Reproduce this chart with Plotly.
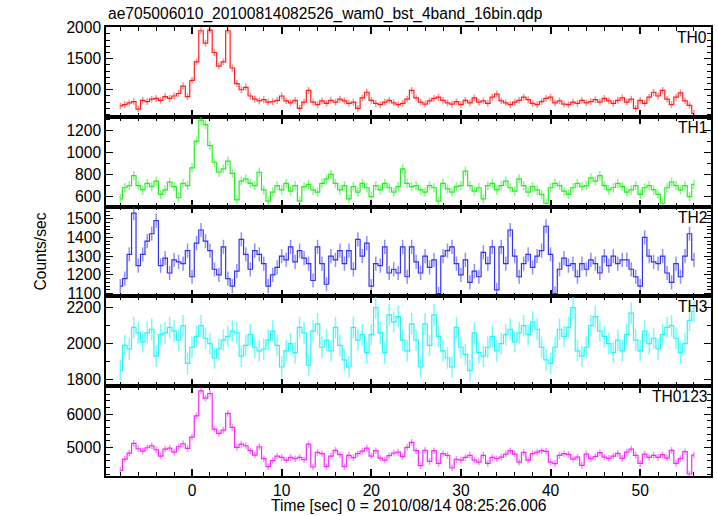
import plotly.graph_objects as go
from plotly.subplots import make_subplots

# ---------------- data (0.5 s bins starting at t = -8 s) ----------------
t_start = -8.0
bin_width = 0.5

th0 = [740, 760, 790, 810, 690, 830, 810, 850, 860, 830, 890, 860, 900, 940, 1060, 890,
       1150, 1450, 1950, 1750, 1960, 1600, 1380, 1450, 1950, 1350, 1100, 1000, 1040, 900, 850, 820,
       840, 800, 810, 830, 900, 820, 790, 830, 700, 800, 990, 800, 760, 820, 780, 830,
       800, 850, 820, 780, 800, 700, 870, 960, 830, 780, 760, 800, 830, 790, 760, 780,
       850, 990, 870, 800, 770, 820, 860, 880, 830, 790, 770, 810, 760, 830, 790, 870,
       800, 820, 780, 880, 930, 820, 790, 760, 800, 830, 880, 840, 780, 760, 810, 860,
       880, 790, 820, 770, 760, 800, 780, 830, 790, 810, 840, 800, 860, 820, 780, 830,
       870, 800, 850, 700, 830, 780, 880, 960, 900, 990, 850, 760, 880, 950, 820, 750,
       620]

th1 = [580, 680, 700, 790, 700, 660, 720, 690, 740, 620, 660, 730, 690, 590, 720, 700,
       860, 1100, 1290, 1250, 1060, 910, 820, 850, 920, 810, 570, 740, 760, 720, 700, 820,
       660, 560, 640, 700, 660, 720, 650, 700, 560, 690, 710, 660, 640, 720, 760, 800,
       720, 660, 700, 580, 690, 640, 720, 680, 600, 700, 660, 720, 680, 640, 690, 850,
       720, 690, 700, 660, 640, 700, 680, 560, 720, 670, 640, 690, 700, 830, 700, 650,
       680, 580, 700, 720, 660, 700, 740, 680, 650, 760, 700, 640, 690, 660, 620, 540,
       680, 720, 700, 650, 620, 680, 720, 690, 700, 770, 740, 790, 700, 660, 680, 720,
       690, 640, 660, 700, 620, 680, 700, 660, 620, 540, 680, 730, 700, 660, 700, 600,
       710]

th2 = [1140, 1180, 1310, 1530, 1250, 1310, 1380, 1420, 1490, 1250, 1290, 1210, 1280, 1270, 1260, 1330,
       1190, 1370, 1440, 1380, 1330, 1230, 1200, 1350, 1180, 1140, 1220, 1390, 1310, 1230, 1330, 1310,
       1260, 1140, 1200, 1240, 1300, 1280, 1350, 1270, 1330, 1290, 1260, 1170, 1350, 1260, 1150, 1300,
       1280, 1330, 1260, 1330, 1230, 1390, 1300, 1370, 1140, 1260, 1250, 1350, 1210, 1230, 1210, 1350,
       1190, 1350, 1270, 1210, 1300, 1240, 1280, 1100, 1300, 1330, 1350, 1260, 1200, 1280, 1160, 1220,
       1190, 1320, 1260, 1350, 1120, 1350, 1260, 1440, 1300, 1190, 1260, 1310, 1240, 1300, 1330, 1460,
       1310, 1100, 1230, 1290, 1250, 1260, 1190, 1260, 1230, 1280, 1260, 1210, 1300, 1250, 1300, 1260,
       1280, 1280, 1230, 1190, 1140, 1400, 1300, 1270, 1260, 1300, 1210, 1160, 1260, 1190, 1300, 1420,
       1280]

th3 = [1850, 1990, 1970, 2090, 2060, 2010, 2060, 2080, 1930, 2050, 2060, 2090, 2070, 2020, 2100, 1890,
       1980, 2040, 2100, 2030, 2000, 1920, 1970, 2020, 2040, 2070, 2060, 1930, 1990, 2050, 1980, 1960,
       1970, 2020, 2070, 1990, 1870, 1960, 2000, 1950, 2090, 2060, 1880, 2070, 2110, 1980, 2020, 1960,
       2090, 1990, 1910, 1870, 2090, 2020, 2050, 1950, 2050, 2200, 2060, 1950, 2160, 2120, 2150, 2020,
       1960, 2110, 2020, 1870, 2110, 1990, 2160, 2040, 1960, 1920, 1870, 2090, 1980, 1940, 1850, 2060,
       1950, 1930, 1980, 2040, 1960, 2000, 2050, 2080, 2010, 2060, 2100, 2050, 2120, 2080, 1980, 1910,
       1890, 1980, 2080, 2040, 2090, 2200, 1960, 1930, 1980, 2100, 2150, 2070, 2040, 2000, 1950, 2020,
       1960, 2050, 2170, 2020, 1960, 2070, 2000, 2030, 1970, 2050, 2090, 2100, 2030, 1950, 2000, 2130,
       2180]

th0123 = [4310, 4650, 4830, 5120, 4960, 4890, 4990, 5050, 4930, 4740, 4950, 4980, 4860, 5020, 5110, 4970,
          5310, 5950, 6700, 6480, 6620, 5550, 5420, 5520, 6020, 5600, 5000, 5100, 5050, 4900, 4770, 5020,
          4660, 4420, 4600, 4740, 4700, 4620, 4700, 4660, 4700, 4630, 5100, 4410, 4850, 4810, 4420, 4740,
          4910, 4780, 4420, 4760, 4690, 4810, 4890, 4980, 4740, 4900, 4680, 4620, 4750, 4830, 4860, 4720,
          5000, 5150, 4900, 4450, 4910, 4580, 4900, 4520, 4810, 4760, 4380, 4640, 4620, 4700, 4760, 4620,
          4560, 4760, 4520, 4700, 4660, 4710, 4800, 4900, 4800, 4560, 4850, 4620, 4810, 4860, 4900, 4880,
          4560, 4510, 4760, 4810, 4790, 4650, 4710, 4460, 4800, 4660, 4720, 4840, 4710, 4670, 4740, 4820,
          4670, 4860, 4950, 4760, 4520, 4800, 4700, 4760, 4700, 4780, 4680, 4910, 4520, 4660, 4870, 4200,
          4770]

band_names = ["TH0", "TH1", "TH2", "TH3", "TH0123"]
band_errors = [55, 42, 38, 60, 100]
series = [th0, th1, th2, th3, th0123]

title_text = "ae705006010_20100814082526_wam0_bst_4band_16bin.qdp"
x_title = "Time [sec] 0 = 2010/08/14 08:25:26.006"
y_title = "Counts/sec"

# ---------------- style ----------------
colors = ["rgb(255,30,30)", "rgb(40,235,40)", "rgb(50,50,240)", "rgb(40,245,245)", "rgb(245,40,245)"]
err_colors = ["rgba(255,60,60,0.6)", "rgba(60,240,60,0.6)", "rgba(70,70,240,0.6)",
              "rgba(60,250,250,0.7)", "rgba(250,60,250,0.6)"]
y_ranges = [[565, 2010], [510, 1320], [1085, 1565], [1763, 2263], [4140, 6840]]
y_dticks = [500, 200, 100, 200, 1000]
y_minor = [100, 100, 20, 100, 200]

FONT = "Liberation Sans, Arial, Helvetica, sans-serif"
FS = 15.6

fig = make_subplots(rows=5, cols=1, shared_xaxes=True, vertical_spacing=0)

for i, vals in enumerate(series):
    times = [t_start + bin_width * k for k in range(len(vals))]
    fig.add_trace(go.Scatter(
        x=times, y=vals, mode="lines",
        line=dict(color=colors[i], width=1.2, shape="hvh"),
        error_y=dict(type="constant", value=band_errors[i], thickness=1.5, width=0,
                     color=err_colors[i]),
        showlegend=False, hoverinfo="skip"), row=i + 1, col=1)

    fig.update_yaxes(row=i + 1, col=1,
                     range=y_ranges[i], dtick=y_dticks[i], tick0=0,
                     showgrid=False, zeroline=False,
                     showline=True, linecolor="black", linewidth=1.5, mirror="allticks",
                     ticks="inside", ticklen=7, tickwidth=1, tickcolor="black",
                     minor=dict(dtick=y_minor[i], tick0=0, ticks="inside", ticklen=4,
                                tickcolor="black", tickwidth=1),
                     tickfont=dict(family=FONT, size=FS, color="black"))
    fig.update_xaxes(row=i + 1, col=1,
                     range=[-9.6, 57.9], dtick=10, tick0=0,
                     showgrid=False, zeroline=False,
                     showline=True, linecolor="black", linewidth=1.5, mirror="allticks",
                     ticks="inside", ticklen=7, tickwidth=1.5, tickcolor="black",
                     minor=dict(dtick=2, tick0=0, ticks="inside", ticklen=4,
                                tickcolor="black", tickwidth=1),
                     tickfont=dict(family=FONT, size=FS, color="black"))

    fig.add_annotation(text=band_names[i], xref="x domain", yref="y domain",
                       x=1, y=1, xanchor="right", yanchor="top", xshift=-2, yshift=0,
                       showarrow=False, font=dict(family=FONT, size=FS, color="black"),
                       row=i + 1, col=1)

fig.add_annotation(text=title_text, xref="paper", yref="paper", x=0, y=1,
                   xanchor="left", yanchor="bottom", xshift=0, yshift=2, showarrow=False,
                   font=dict(family=FONT, size=FS, color="black"))
fig.add_annotation(text=x_title, xref="paper", yref="paper", x=0.5, y=-0.066,
                   xanchor="center", yanchor="middle", showarrow=False,
                   font=dict(family=FONT, size=FS, color="black"))
fig.add_annotation(text=y_title, xref="paper", yref="paper", x=-0.109, y=0.5,
                   xanchor="center", yanchor="middle", textangle=-90, showarrow=False,
                   font=dict(family=FONT, size=FS, color="black"))

fig.update_layout(width=717, height=516,
                  margin=dict(l=106, r=6, t=27, b=40, autoexpand=False),
                  paper_bgcolor="white", plot_bgcolor="white",
                  font=dict(family=FONT, size=FS, color="black"))

fig.write_html("out.html", config={"displayModeBar": False},
               post_script="document.body.style.margin='0';document.body.style.overflow='hidden';")
